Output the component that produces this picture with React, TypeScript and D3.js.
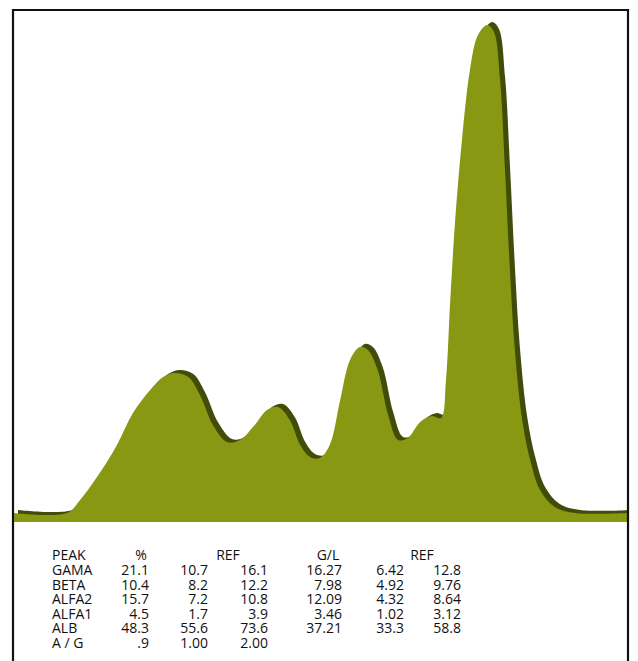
import React from 'react';
import * as d3 from 'd3';

// densitometer trace: mobility (0..100) vs relative intensity (0..100)
const mobility = [0, 8.8, 10.9, 14.1, 16.9, 19.5, 22.3, 24.4, 26.3, 28.5, 30.4, 32.5, 34.8, 36.9, 39.3, 41.3, 43.1, 45, 46.7, 48.3, 49.9, 51.5, 53.2, 54.8, 56.4, 57.7, 59.3, 61, 62.6, 64.2, 66.2, 68.1, 69.6, 70.4, 71.1, 71.9, 73, 74.3, 75.6, 77.1, 78.2, 79.2, 80, 80.8, 81.6, 82.8, 84.1, 85.7, 88.1, 91.4, 100];
const intensity = [1.8, 1.8, 4.4, 9.8, 15.4, 21.8, 26.4, 29, 29.8, 29, 25.4, 19.4, 16, 16.4, 19.4, 22.4, 23, 20.4, 15.4, 13, 12.8, 15.4, 24.4, 32.4, 35, 34.4, 30.4, 21.4, 16.4, 16.8, 20, 21.2, 20.8, 28.4, 44.4, 60.4, 76.4, 90.4, 97.4, 99.4, 98, 88.4, 70.4, 50.4, 34.4, 20.4, 12.4, 6.4, 3, 1.8, 1.8];

const peaks = ['GAMA', 'BETA', 'ALFA2', 'ALFA1', 'ALB', 'A / G'];
const percent = ['21.1', '10.4', '15.7', '4.5', '48.3', '.9'];
const refPctLow = ['10.7', '8.2', '7.2', '1.7', '55.6', '1.00'];
const refPctHigh = ['16.1', '12.2', '10.8', '3.9', '73.6', '2.00'];
const gramsPerL = ['16.27', '7.98', '12.09', '3.46', '37.21', ''];
const refGLow = ['6.42', '4.92', '4.32', '1.02', '33.3', ''];
const refGHigh = ['12.8', '9.76', '8.64', '3.12', '58.8', ''];

const W = 638;
const H = 661;
const left = 13;
const right = 628;
const top = 10;
const base = 522;

export default function App() {
  const data = mobility.map((m, i) => ({ m, v: intensity[i] }));
  const x = d3.scaleLinear().domain([0, 100]).range([left, right]);
  const y = d3.scaleLinear().domain([0, 100]).range([base, base - 500]);

  const area = d3.area<{ m: number; v: number }>()
    .x(d => x(d.m))
    .y0(y(0))
    .y1(d => y(d.v))
    .curve(d3.curveCatmullRom.alpha(0.5));

  const path = area(data) || '';

  const font = "'Open Sans', 'Noto Sans', sans-serif";
  const rowY = (i: number) => 575 + i * 14.6;

  const cols: { vals: string[]; x: number }[] = [
    { vals: percent, x: 149 },
    { vals: refPctLow, x: 208 },
    { vals: refPctHigh, x: 268 },
    { vals: gramsPerL, x: 342 },
    { vals: refGLow, x: 404 },
    { vals: refGHigh, x: 461 },
  ];

  return (
    <div style={{ position: 'absolute', left: 0, top: 0 }}>
      <svg width={W} height={H} viewBox={`0 0 ${W} ${H}`} style={{ display: 'block', background: '#fff' }}>
        <defs>
          <clipPath id="plot">
            <rect x={left} y={top} width={right - left} height={base - top} />
          </clipPath>
        </defs>
        <g clipPath="url(#plot)">
          {/* dark edge, shifted up/right */}
          <path d={path} fill="#414c08" transform="translate(5,-3)" />
          <path d={path} fill="#899812" />
        </g>

        {/* frame */}
        <path d={`M${left},${H} V${top} H${right} V${H}`} fill="none" stroke="#111" strokeWidth={2.2} />

        {/* results table */}
        <g fontFamily={font} fontSize={14} fill="#111">
          <text x={52} y={560}>PEAK</text>
          <text x={141} y={560} textAnchor="middle">%</text>
          <text x={228} y={560} textAnchor="middle">REF</text>
          <text x={328} y={560} textAnchor="middle">G/L</text>
          <text x={422} y={560} textAnchor="middle">REF</text>
          {peaks.map((p, i) => (
            <text key={p} x={52} y={rowY(i)}>{p}</text>
          ))}
          {cols.map((c, ci) =>
            c.vals.map((v, i) => (
              <text key={`${ci}-${i}`} x={c.x} y={rowY(i)} textAnchor="end">{v}</text>
            ))
          )}
        </g>
      </svg>
    </div>
  );
}
